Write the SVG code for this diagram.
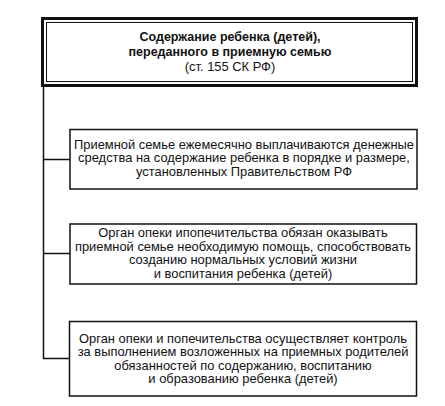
<svg xmlns="http://www.w3.org/2000/svg" width="445" height="406" viewBox="0 0 445 406">
<style>
.box{fill:#fff;stroke:#111;stroke-width:1.5}
.t{font-family:"Liberation Sans",Arial,sans-serif;font-size:12.9px;fill:#111;text-anchor:middle}
.b{font-weight:bold;font-size:12.5px}
.c{fill:none;stroke:#111;stroke-width:1.5}
</style>
<rect width="445" height="406" fill="#fff"/>
<g id="connectors">
<path class="c" d="M43.5 86 V358.5 H70"/>
<path class="c" d="M43.5 159.5 H70"/>
<path class="c" d="M43.5 253.5 H70"/>
</g>
<g id="title">
<rect x="42.5" y="18.5" width="374" height="67" fill="#fff" stroke="#111" stroke-width="3"/>
<rect x="46.5" y="22.5" width="366" height="59" fill="none" stroke="#111" stroke-width="1"/>
<text class="t b" x="230" y="41">Содержание ребенка (детей),</text>
<text class="t b" x="230" y="56">переданного в приемную семью</text>
<text class="t" x="230" y="71">(ст. 155 СК РФ)</text>
</g>
<g id="box1">
<rect class="box" x="70" y="129.5" width="347" height="59.5"/>
<text class="t" x="244" y="148.8">Приемной семье ежемесячно выплачиваются денежные</text>
<text class="t" x="244" y="162.3">средства на содержание ребенка в порядке и размере,</text>
<text class="t" x="244" y="175.8">установленных Правительством РФ</text>
</g>
<g id="box2">
<rect class="box" x="70" y="224" width="346.5" height="60"/>
<text class="t" x="243" y="237">Орган опеки ипопечительства обязан оказывать</text>
<text class="t" x="243" y="250.5">приемной семье необходимую помощь, способствовать</text>
<text class="t" x="243" y="264">созданию нормальных условий жизни</text>
<text class="t" x="243" y="277.5">и воспитания ребенка (детей)</text>
</g>
<g id="box3">
<rect class="box" x="69.5" y="321.5" width="347" height="74.5"/>
<text class="t" x="243" y="342.5">Орган опеки и попечительства осуществляет контроль</text>
<text class="t" x="243" y="356">за выполнением возложенных на приемных родителей</text>
<text class="t" x="243" y="369.5">обязанностей по содержанию, воспитанию</text>
<text class="t" x="243" y="383">и образованию ребенка (детей)</text>
</g>
</svg>
